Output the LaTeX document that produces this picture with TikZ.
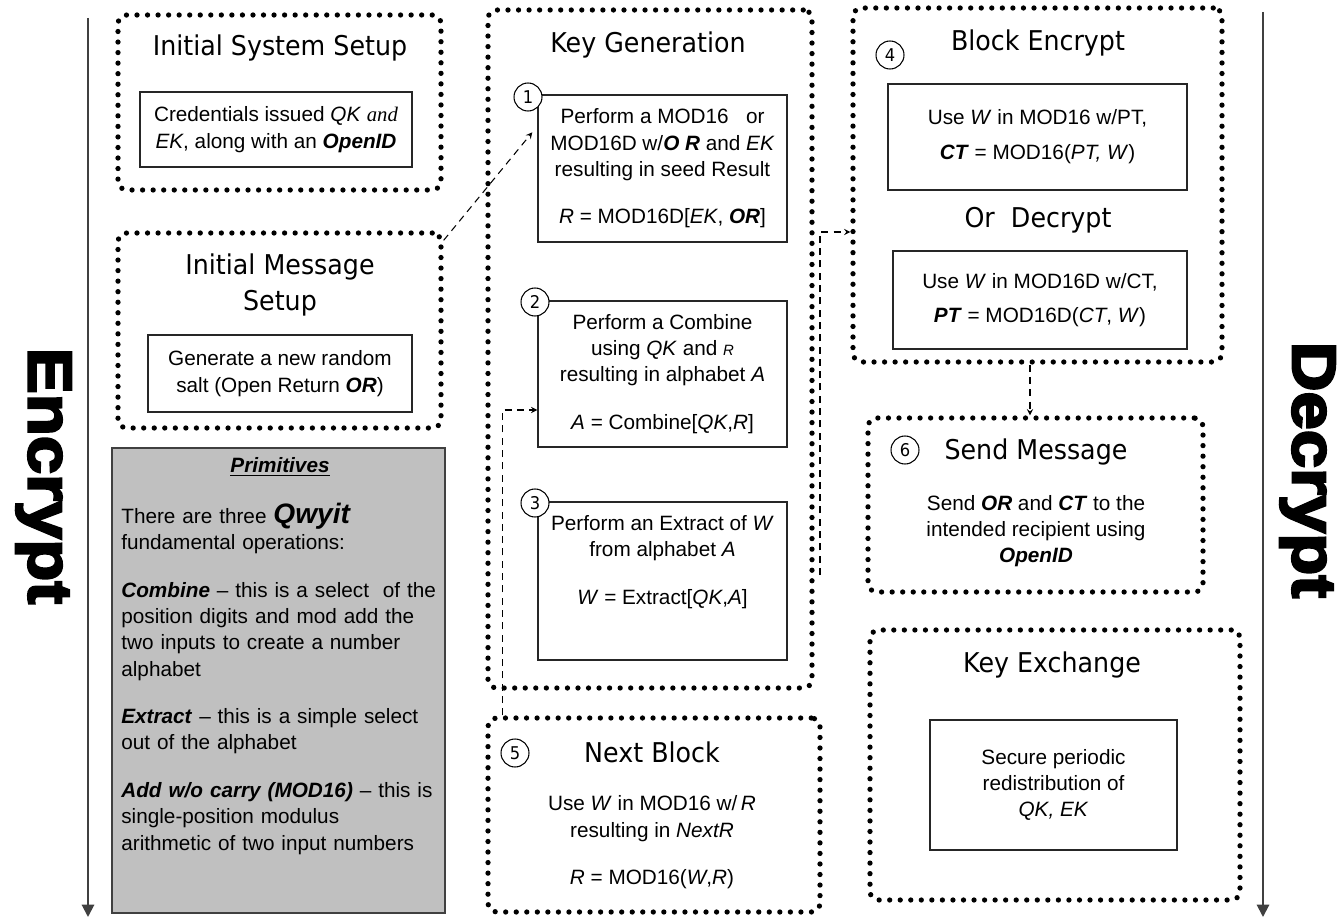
\documentclass[tikz,border=0pt]{standalone}
\usepackage{fontspec}
\usetikzlibrary{arrows.meta}
\setmainfont{Liberation Sans}
\newfontfamily\titlefont[FakeStretch=0.93]{DejaVu Sans}
\newfontfamily\sidefont[FakeStretch=1.12,BoldFeatures={FakeBold=4}]{Liberation Sans}
\newfontfamily\serifit{Liberation Serif}
\definecolor{boxgray}{HTML}{C0C0C0}
\definecolor{linegray}{HTML}{404040}
\newcommand{\bitxt}[1]{\textbf{\textit{#1}}}
\newcommand{\bodysize}{\fontsize{11.8}{15}\selectfont}
\tikzset{
	groupbox/.style={draw, line width=3pt, dash pattern=on 0pt off 6pt, line cap=round, rounded corners=5pt, inner sep=0pt},
	stepbox/.style={draw=black!85, line width=0.8pt, fill=white, align=center, inner sep=2pt, font=\bodysize},
	primbox/.style={draw=linegray, line width=1pt, fill=boxgray, inner sep=0pt},
	numcirc/.style={circle, draw, fill=white, line width=0.6pt, minimum size=0.56cm, inner sep=0pt, font=\titlefont\fontsize{10}{10}\selectfont},
	grouptitle/.style={align=center, font=\titlefont\fontsize{15.5}{20.5}\selectfont},
	bodytext/.style={align=center, font=\bodysize},
	sidelabel/.style={rotate=-90, font=\sidefont\bfseries\fontsize{35}{35}\selectfont},
	sidearrow/.style={-{Triangle[length=7pt,width=7pt]}, draw=linegray, line width=1.1pt},
	flow/.style={-stealth, line width=0.6pt, dash pattern=on 4pt off 3pt}
}

\begin{document}
\begin{tikzpicture}
	\useasboundingbox (0,0) rectangle (26.84,-18.48);

	\coordinate (etop) at (1.76,-0.36);
	\coordinate (ebot) at (1.76,-18.34);
	\draw[sidearrow] (etop) -- (ebot);
	\node[sidelabel] (encside) at (0.87,-9.52) {Encrypt};

	\coordinate (dtop) at (25.26,-0.24);
	\coordinate (dbot) at (25.26,-18.34);
	\draw[sidearrow] (dtop) -- (dbot);
	\node[sidelabel] (decside) at (26.15,-9.4) {Decrypt};

	\node[groupbox, minimum width=6.46cm, minimum height=3.5cm] (sys) at (5.59,-2.05) {};
	\node[grouptitle] (systitle) at (5.6,-0.96) {Initial System Setup};
	\node[stepbox, minimum width=5.44cm, minimum height=1.5cm] (sysin) at (5.52,-2.59) {Credentials issued \textit{QK} {\serifit\itshape and}\\ \textit{EK}, along with an \bitxt{OpenID}};

	\node[groupbox, minimum width=6.46cm, minimum height=3.9cm] (msg) at (5.59,-6.61) {};
	\node[grouptitle] (msgtitle) at (5.6,-5.7) {Initial Message\\ Setup};
	\node[stepbox, minimum width=5.28cm, minimum height=1.54cm] (msgin) at (5.6,-7.47) {Generate a new random\\ salt (Open Return \bitxt{OR})};

	\node[primbox, minimum width=6.66cm, minimum height=9.3cm] (prim) at (5.57,-13.61) {};
	\node[font=\bodysize\bfseries\itshape] (primtitle) at (5.6,-9.34) {\underline{Primitives}};
	\node[anchor=north west, align=left, text width=6.4cm, inner sep=0pt, font=\bodysize] (primbody) at (2.42,-10.05) {There are three {\fontsize{16}{15}\selectfont\bitxt{Qwyit}}\\ fundamental operations:\\[12pt]
		\bitxt{Combine} -- this is a select\ \ of the\\ position digits and mod add the\\ two inputs to create a number\\ alphabet\\[12pt]
		\bitxt{Extract} -- this is a simple select\\ out of the alphabet\\[12pt]
		\bitxt{Add w/o carry (MOD16)} -- this is\\ single-position modulus\\ arithmetic of two input numbers};

	\node[groupbox, minimum width=6.48cm, minimum height=13.56cm] (keyg) at (13.0,-6.98) {};
	\node[grouptitle] (keygtitle) at (12.96,-0.9) {Key Generation};
	\node[stepbox, minimum width=4.98cm, minimum height=2.94cm] (g1) at (13.25,-3.37) {Perform a MOD16\ \ \ or\\ MOD16D w/\bitxt{O R} and \textit{EK}\\ resulting in seed Result\\[12pt] \textit{R} = MOD16D[\textit{EK}, \bitxt{OR}]};
	\node[numcirc] (n1) at (10.56,-1.94) {1};
	\node[stepbox, minimum width=4.98cm, minimum height=2.92cm] (g2) at (13.25,-7.48) {Perform a Combine\\ using \textit{QK} and {\fontsize{8.5}{10}\selectfont\itshape R}\\ resulting in alphabet \textit{A}\\[12pt] \textit{A} = Combine[\textit{QK},\textit{R}]};
	\node[numcirc] (n2) at (10.7,-6.04) {2};
	\node[stepbox, minimum width=4.98cm, minimum height=3.16cm] (g3) at (13.25,-11.62) {Perform an Extract of \textit{W}\\ from alphabet \textit{A}\\[12pt] \textit{W} = Extract[\textit{QK},\textit{A}]\\[9pt] ~};
	\node[numcirc] (n3) at (10.7,-10.06) {3};

	\node[groupbox, minimum width=6.64cm, minimum height=3.88cm] (nxt) at (13.08,-16.3) {};
	\node[numcirc] (n5) at (10.3,-15.06) {5};
	\node[grouptitle] (nxttitle) at (13.04,-15.04) {Next Block};
	\node[bodytext] (nxttext) at (13.04,-16.85) {Use \textit{W} in MOD16 w/\,\textit{R}\\ resulting in \textit{NextR}\\[12pt] \textit{R} = MOD16(\textit{W},\textit{R})};

	\node[groupbox, minimum width=7.38cm, minimum height=7.08cm] (blk) at (20.75,-3.7) {};
	\node[grouptitle] (blktitle) at (20.76,-0.86) {Block Encrypt};
	\node[numcirc] (n4) at (17.8,-1.1) {4};
	\node[stepbox, minimum width=5.98cm, minimum height=2.12cm] (blkin) at (20.75,-2.74) {Use \textit{W} in MOD16 w/PT,\\[5pt] \bitxt{CT} = MOD16(\textit{PT, W})};
	\node[grouptitle] (ortitle) at (20.76,-4.4) {Or\ \ Decrypt};
	\node[stepbox, minimum width=5.88cm, minimum height=1.96cm] (decin) at (20.8,-6.0) {Use \textit{W} in MOD16D w/CT,\\[4pt] \bitxt{PT} = MOD16D(\textit{CT}, \textit{W})};

	\node[groupbox, minimum width=6.7cm, minimum height=3.48cm] (snd) at (20.71,-10.1) {};
	\node[numcirc] (n6) at (18.1,-9.0) {6};
	\node[grouptitle] (sndtitle) at (20.72,-9.04) {Send Message};
	\node[bodytext] (sndtext) at (20.72,-10.62) {Send \bitxt{OR} and \bitxt{CT} to the\\ intended recipient using\\ \bitxt{OpenID}};

	\node[groupbox, minimum width=7.4cm, minimum height=5.4cm] (kx) at (21.1,-15.3) {};
	\node[grouptitle] (kxtitle) at (21.04,-13.3) {Key Exchange};
	\node[stepbox, minimum width=4.94cm, minimum height=2.6cm] (kxin) at (21.07,-15.7) {Secure periodic\\ redistribution of\\ \textit{QK, EK}};

	\draw[flow] ([yshift=-0.2cm]msg.north east) -- ([shift={(-0.1,-0.76)}]g1.north west);
	\draw[flow] ([xshift=0.34cm]nxt.north west) |- ([yshift=-0.72cm]g2.west);
	\coordinate (wout) at (16.4,-11.5);
	\draw[flow] (wout) |- ([yshift=-0.94cm]blk.west);
	\coordinate (ctout) at ([xshift=-0.15cm]blk.south);
	\draw[flow] (ctout) -- (ctout |- snd.north);
\end{tikzpicture}
\end{document}
